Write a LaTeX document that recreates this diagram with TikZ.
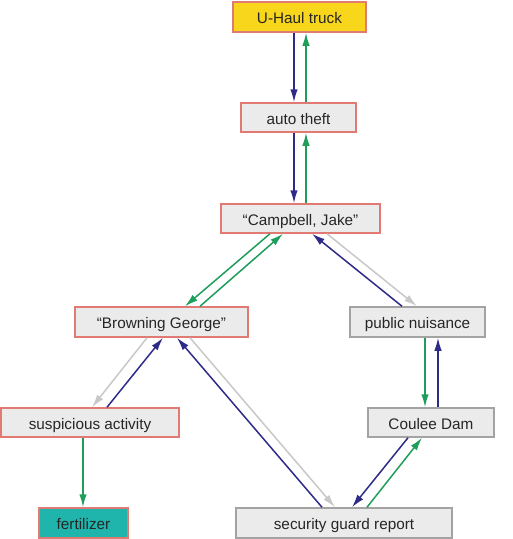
\documentclass[tikz,border=0pt]{standalone}
\usepackage{fontspec}
\setmainfont{Liberation Sans}
\usetikzlibrary{arrows.meta}
\definecolor{boxfill}{HTML}{EBEBEB}
\definecolor{redline}{HTML}{E07A72}
\definecolor{grayline}{HTML}{A3A3A3}
\definecolor{yelfill}{HTML}{F8D61C}
\definecolor{tealfill}{HTML}{1FB5AD}
\definecolor{bluearr}{HTML}{2E2B88}
\definecolor{greenarr}{HTML}{1E9E5A}
\definecolor{grayarr}{HTML}{C8C8C8}
\tikzset{
  box/.style={draw, line width=1.5pt, fill=boxfill, rectangle, inner sep=0pt,
    text height=13pt, text depth=0pt,
    font=\fontsize{15.3}{17}\selectfont, text=black!85},
  redbox/.style={box, draw=redline},
  graybox/.style={box, draw=grayline},
  conn/.style={line width=1.5pt, -{Latex[length=13pt,width=7.5pt]}},
  blu/.style={conn, bluearr},
  grn/.style={conn, greenarr},
  gry/.style={conn, grayarr},
}
\begin{document}
\begin{tikzpicture}[x=1pt,y=-1pt]
\useasboundingbox (0,0) rectangle (513,539);
\node[redbox, fill=yelfill, minimum width=133pt, minimum height=30pt] (uh) at (299.5,17) {U-Haul truck};
\node[redbox, minimum width=115pt, minimum height=29pt] (at) at (298.5,117.5) {auto theft};
\node[redbox, minimum width=159pt, minimum height=29pt] (cj) at (300.5,218.5) {“Campbell, Jake”};
\node[redbox, minimum width=173pt, minimum height=30pt] (bg) at (161.5,322) {“Browning George”};
\node[graybox, minimum width=135pt, minimum height=30pt] (pn) at (417.5,322) {public nuisance};
\node[redbox, minimum width=178pt, minimum height=29pt] (sa) at (90,422.5) {suspicious activity};
\node[graybox, minimum width=126pt, minimum height=29pt] (cd) at (431,422.5) {Coulee Dam};
\node[redbox, fill=tealfill, minimum width=89pt, minimum height=30pt] (fe) at (83.5,523) {fertilizer};
\node[graybox, minimum width=216pt, minimum height=30pt] (sg) at (344,523) {security guard report};

% U-Haul <-> auto theft
\draw[blu] ([xshift=-5.5pt]uh.south) -- ([xshift=-4.5pt]at.north);
\draw[grn] ([xshift=7.5pt]at.north) -- ([xshift=6.5pt]uh.south);
% auto theft <-> Campbell
\draw[blu] ([xshift=-4.5pt]at.south) -- ([xshift=-6.5pt]cj.north);
\draw[grn] ([xshift=5.5pt]cj.north) -- ([xshift=7.5pt]at.south);
% Campbell <-> Browning
\draw[grn] ([xshift=-30.5pt]cj.south) -- ([xshift=23.5pt]bg.north);
\draw[grn] ([xshift=38.5pt]bg.north) -- ([xshift=-17.5pt]cj.south);
% public nuisance <-> Campbell
\draw[blu] ([xshift=-15.5pt]pn.north) -- ([xshift=11.5pt]cj.south);
\draw[gry] ([xshift=26.5pt]cj.south) -- ([xshift=-0.5pt]pn.north);
% public nuisance <-> Coulee Dam
\draw[grn] ([xshift=7.5pt]pn.south) -- ([xshift=-6pt]cd.north);
\draw[blu] ([xshift=7pt]cd.north) -- ([xshift=20.5pt]pn.south);
% Browning <-> suspicious activity
\draw[gry] ([xshift=-14.5pt]bg.south) -- ([xshift=2pt]sa.north);
\draw[blu] ([xshift=17pt]sa.north) -- ([xshift=1.5pt]bg.south);
% suspicious -> fertilizer
\draw[grn] ([xshift=-7pt]sa.south) -- ([xshift=-0.5pt]fe.north);
% security <-> Browning
\draw[blu] ([xshift=-22pt]sg.north) -- ([xshift=15.5pt]bg.south);
\draw[gry] ([xshift=28.5pt]bg.south) -- ([xshift=-9pt]sg.north);
% Coulee <-> security
\draw[blu] ([xshift=-23pt]cd.south) -- ([xshift=8pt]sg.north);
\draw[grn] ([xshift=23pt]sg.north) -- ([xshift=-9pt]cd.south);
\end{tikzpicture}
\end{document}
